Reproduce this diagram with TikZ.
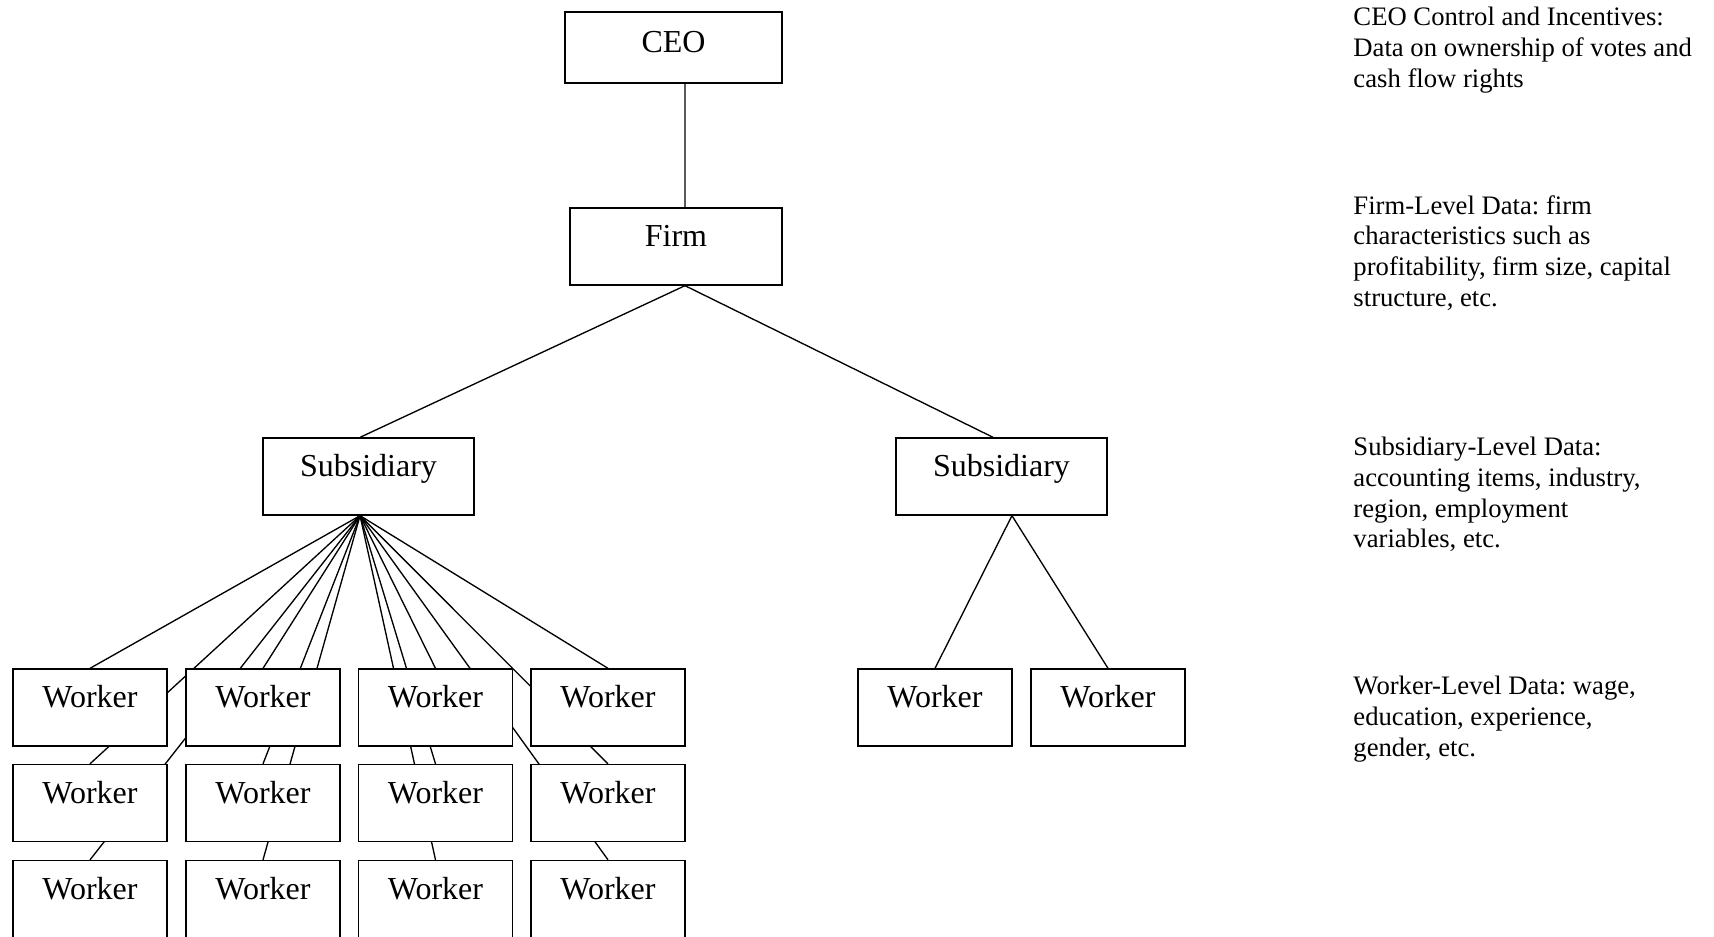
\documentclass[tikz,border=0pt]{standalone}
\usepackage{fontspec}
\setmainfont{Liberation Serif}
\usetikzlibrary{backgrounds}
\frenchspacing

\begin{document}
\begin{tikzpicture}[
  x=0.45pt, y=-0.45pt,
  box/.style={draw, fill=white, line width=0.6pt, inner sep=0pt,
    minimum width={#1*0.45pt}, text height=17.4pt, text depth=17.25pt,
    font=\fontsize{14.4}{16.6}\selectfont},
  note/.style={anchor=north west, inner sep=0pt, align=left,
    font=\fontsize{12}{13.8}\selectfont},
  link/.style={line width=0.6pt}
]
\useasboundingbox (0,0) rectangle (1714,937);
\node[box=217, text height=18.2pt, text depth=13.75pt] (ceo) at (673.5,47.5) {CEO};
\node[box=212] (firm) at (676,246.5) {Firm};
\node[box=211] (subl) at (368.5,476.5) {Subsidiary};
\node[box=211] (subr) at (1001.5,476.5) {Subsidiary};
% workers under the first subsidiary
\node[box=154] (w11) at (90,707.5) {Worker};
\node[box=154] (w21) at (263,707.5) {Worker};
\node[box=154] (w31) at (435.5,707.5) {Worker};
\node[box=154] (w41) at (608,707.5) {Worker};
\node[box=154] (w12) at (90,803) {Worker};
\node[box=154] (w22) at (263,803) {Worker};
\node[box=154] (w32) at (435.5,803) {Worker};
\node[box=154] (w42) at (608,803) {Worker};
\node[box=154] (w13) at (90,899) {Worker};
\node[box=154] (w23) at (263,899) {Worker};
\node[box=154] (w33) at (435.5,899) {Worker};
\node[box=154] (w43) at (608,899) {Worker};
% workers under the second subsidiary
\node[box=154] (wr1) at (935,707.5) {Worker};
\node[box=154] (wr2) at (1108,707.5) {Worker};
% data descriptions
\node[note] (ceonote) at (1353,7) {CEO Control and Incentives:\\Data on ownership of votes and\\cash flow rights};
\node[note] (firmnote) at (1353,195) {Firm-Level Data: firm\\characteristics such as\\profitability, firm size, capital\\structure, etc.};
\node[note] (subnote) at (1353,437) {Subsidiary-Level Data:\\accounting items, industry,\\region, employment\\variables, etc.};
\node[note] (worknote) at (1353,676) {Worker-Level Data: wage,\\education, experience,\\gender, etc.};
\begin{scope}[on background layer]
\coordinate (firmout) at ([xshift=4.05pt]firm.south);
\coordinate (sublout) at ([xshift=-3.8pt]subl.south);
\coordinate (subrout) at ([xshift=4.7pt]subr.south);
\draw[link] ([xshift=5.2pt]ceo.south) -- ([xshift=4.05pt]firm.north);
\draw[link] (firmout) -- ([xshift=-3.8pt]subl.north);
\draw[link] (firmout) -- ([xshift=-3.8pt]subr.north);
\draw[link] (sublout) -- (w11.north);
\draw[link] (sublout) -- (w12.north);
\draw[link] (sublout) -- (w13.north);
\draw[link] (sublout) -- (w21.north);
\draw[link] (sublout) -- (w22.north);
\draw[link] (sublout) -- (w23.north);
\draw[link] (sublout) -- (w31.north);
\draw[link] (sublout) -- (w32.north);
\draw[link] (sublout) -- (w33.north);
\draw[link] (sublout) -- (w41.north);
\draw[link] (sublout) -- (w42.north);
\draw[link] (sublout) -- (w43.north);
\draw[link] (subrout) -- (wr1.north);
\draw[link] (subrout) -- (wr2.north);
\end{scope}
\end{tikzpicture}
\end{document}
